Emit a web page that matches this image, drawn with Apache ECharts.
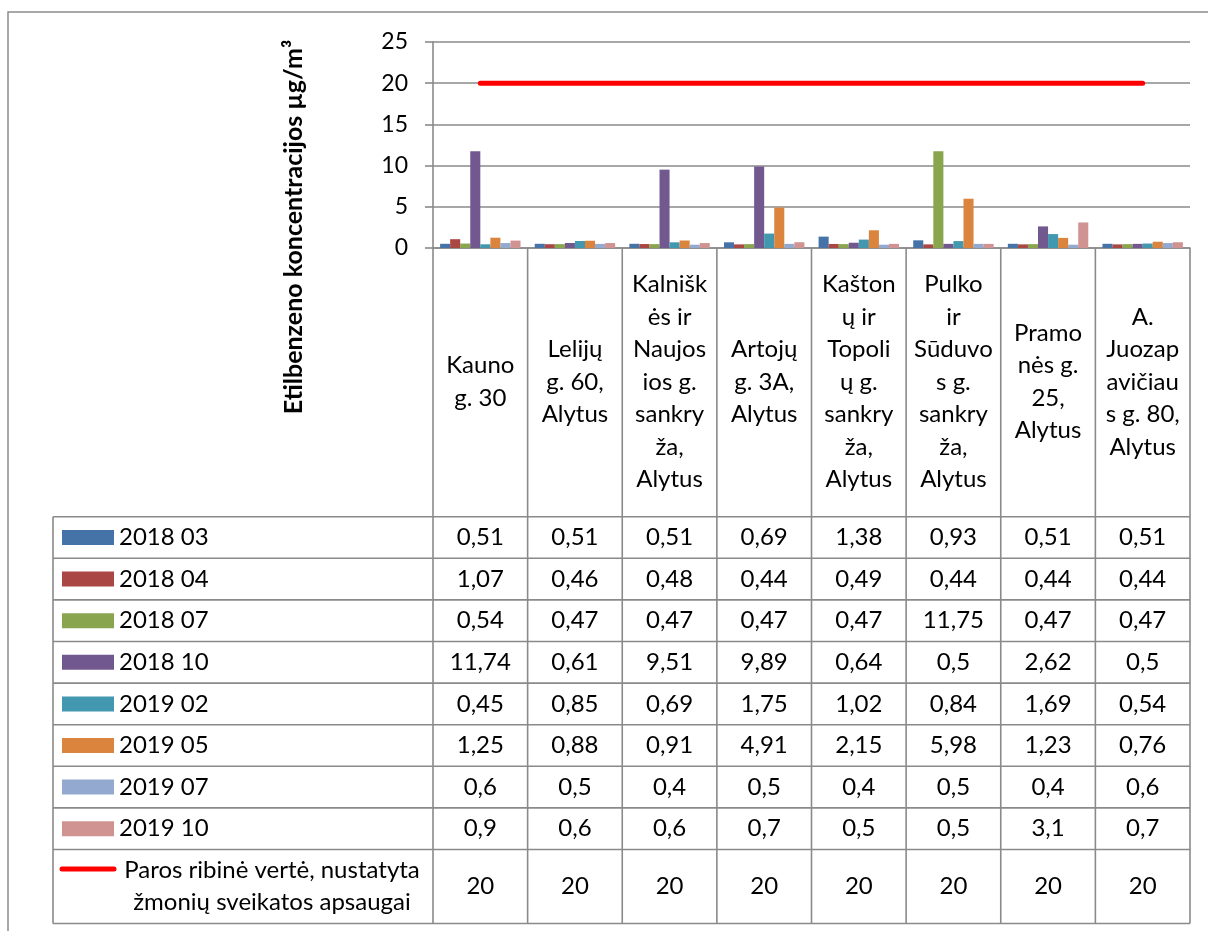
<!DOCTYPE html>
<html>
<head>
<meta charset="utf-8">
<script src="https://cdn.jsdelivr.net/npm/echarts@6/dist/echarts.min.js"></script>
<style>
  html, body { margin: 0; padding: 0; background: #fff; }
  #chart { width: 1208px; height: 931px; }
</style>
</head>
<body>
<div id="chart"></div>
<script>
// Monitoring points (wrapped as they appear under the axis)
const categories = [
  'Kauno\ng. 30',
  'Lelijų\ng. 60,\nAlytus',
  'Kalnišk\nės ir\nNaujos\nios g.\nsankry\nža,\nAlytus',
  'Artojų\ng. 3A,\nAlytus',
  'Kašton\nų ir\nTopoli\nų g.\nsankry\nža,\nAlytus',
  'Pulko\nir\nSūduvo\ns g.\nsankry\nža,\nAlytus',
  'Pramo\nnės g.\n25,\nAlytus',
  'A.\nJuozap\navičiau\ns g. 80,\nAlytus'
];

// Ethylbenzene concentrations, µg/m³, per sampling campaign
const s2018_03 = [0.51, 0.51, 0.51, 0.69, 1.38, 0.93, 0.51, 0.51];
const s2018_04 = [1.07, 0.46, 0.48, 0.44, 0.49, 0.44, 0.44, 0.44];
const s2018_07 = [0.54, 0.47, 0.47, 0.47, 0.47, 11.75, 0.47, 0.47];
const s2018_10 = [11.74, 0.61, 9.51, 9.89, 0.64, 0.5, 2.62, 0.5];
const s2019_02 = [0.45, 0.85, 0.69, 1.75, 1.02, 0.84, 1.69, 0.54];
const s2019_05 = [1.25, 0.88, 0.91, 4.91, 2.15, 5.98, 1.23, 0.76];
const s2019_07 = [0.6, 0.5, 0.4, 0.5, 0.4, 0.5, 0.4, 0.6];
const s2019_10 = [0.9, 0.6, 0.6, 0.7, 0.5, 0.5, 3.1, 0.7];

// Daily limit value for human health protection
const limitValues = [20, 20, 20, 20, 20, 20, 20, 20];

const seriesNames = ['2018 03', '2018 04', '2018 07', '2018 10', '2019 02', '2019 05', '2019 07', '2019 10'];
const limitName = 'Paros ribinė vertė, nustatyta\nžmonių sveikatos apsaugai';
const yTicks = { min: 0, max: 25, interval: 5 };
const axisTitle = 'Etilbenzeno koncentracijos µg/m³';

const barSeries = [s2018_03, s2018_04, s2018_07, s2018_10, s2019_02, s2019_05, s2019_07, s2019_10];
const colors = ['#4572A7', '#AA4643', '#89A54E', '#71588F', '#4198AF', '#DB843D', '#93A9CF', '#D19392'];

const FONT = 'Lato, "Open Sans", sans-serif';
const TXT = 24;
const LINE = '#8a8a8a';

// Layout of the plot area and the data table below it
const W = 1208, H = 931;
const plotLeft = 433, plotRight = 1190, plotTop = 42, plotBottom = 248;
const tableLeft = 53, tableTop = 516.7, rowH = 41.6, lastRowH = 74;
const catW = (plotRight - plotLeft) / categories.length;

const fmt = v => String(v).replace('.', ',');

const graphics = [];

// outer chart frame
graphics.push({
  type: 'rect', silent: true,
  shape: { x: 8, y: 12, width: W + 20, height: H + 20 },
  style: { fill: 'none', stroke: '#8c8c8c', lineWidth: 1.5 }
});

// y axis title
graphics.push({
  type: 'text', silent: true,
  x: 294, y: 227, rotation: Math.PI / 2,
  style: {
    text: axisTitle, font: 'bold 25px ' + FONT, fill: '#000',
    align: 'center', verticalAlign: 'middle'
  }
});

const rowCount = barSeries.length + 1;
const rowTops = [];
for (let r = 0; r < rowCount; r++) rowTops.push(tableTop + r * rowH);
const tableBottom = tableTop + barSeries.length * rowH + lastRowH;

function hLine(x1, x2, y) {
  graphics.push({ type: 'line', silent: true, shape: { x1, y1: y, x2, y2: y },
    style: { stroke: LINE, lineWidth: 1.6 } });
}
function vLine(x, y1, y2) {
  graphics.push({ type: 'line', silent: true, shape: { x1: x, y1, x2: x, y2 },
    style: { stroke: LINE, lineWidth: 1.6 } });
}

// horizontal table rules
rowTops.forEach(y => hLine(tableLeft, plotRight, y));
hLine(tableLeft, plotRight, tableBottom);
// vertical table rules
vLine(tableLeft, tableTop, tableBottom);
for (let c = 0; c <= categories.length; c++) {
  vLine(plotLeft + c * catW, plotBottom, tableBottom);
}

// legend keys and values for each bar series
barSeries.forEach((vals, r) => {
  const cy = rowTops[r] + rowH / 2;
  graphics.push({ type: 'rect', silent: true,
    shape: { x: 62, y: cy - 7.5, width: 52, height: 15 },
    style: { fill: colors[r] } });
  graphics.push({ type: 'text', silent: true, x: 119, y: cy,
    style: { text: seriesNames[r], font: TXT + 'px ' + FONT, fill: '#000',
      align: 'left', verticalAlign: 'middle' } });
  vals.forEach((v, c) => {
    graphics.push({ type: 'text', silent: true, x: plotLeft + (c + 0.5) * catW, y: cy,
      style: { text: fmt(v), font: TXT + 'px ' + FONT, fill: '#000',
        align: 'center', verticalAlign: 'middle' } });
  });
});

// limit row
{
  const r = barSeries.length;
  const cy = rowTops[r] + lastRowH / 2;
  graphics.push({ type: 'line', silent: true,
    shape: { x1: 62, y1: rowTops[r] + 19.5, x2: 114, y2: rowTops[r] + 19.5 },
    style: { stroke: '#FF0000', lineWidth: 5, lineCap: 'round' } });
  graphics.push({ type: 'text', silent: true, x: 272, y: cy,
    style: { text: limitName, font: TXT + 'px ' + FONT, fill: '#000', lineHeight: 32,
      align: 'center', verticalAlign: 'middle' } });
  limitValues.forEach((v, c) => {
    graphics.push({ type: 'text', silent: true, x: plotLeft + (c + 0.5) * catW, y: cy,
      style: { text: fmt(v), font: TXT + 'px ' + FONT, fill: '#000',
        align: 'center', verticalAlign: 'middle' } });
  });
}

const chart = echarts.init(document.getElementById('chart'), null, { renderer: 'canvas' });

const series = barSeries.map((vals, i) => ({
  name: seriesNames[i],
  type: 'bar',
  data: vals,
  barGap: '0%',
  barCategoryGap: '15%',
  itemStyle: { color: colors[i] },
  silent: true
}));
series.push({
  name: limitName,
  type: 'line',
  data: limitValues,
  symbol: 'none',
  silent: true,
  z: 5,
  lineStyle: { color: '#FF0000', width: 5, cap: 'round' }
});

chart.setOption({
  animation: false,
  backgroundColor: '#fff',
  textStyle: { fontFamily: FONT },
  grid: {
    left: plotLeft, right: W - plotRight, top: plotTop, bottom: H - plotBottom,
    containLabel: false
  },
  xAxis: {
    type: 'category',
    data: categories,
    boundaryGap: true,
    axisLine: { show: true, lineStyle: { color: LINE, width: 1.6 } },
    axisTick: { show: false },
    axisLabel: {
      interval: 0,
      margin: 134,
      verticalAlign: 'middle',
      align: 'center',
      lineHeight: 32.5,
      fontSize: TXT,
      fontFamily: FONT,
      color: '#000'
    },
    splitLine: { show: false }
  },
  yAxis: {
    type: 'value',
    min: yTicks.min, max: yTicks.max, interval: yTicks.interval,
    axisLine: { show: true, lineStyle: { color: LINE, width: 1.6 } },
    axisTick: { show: true, length: 8, lineStyle: { color: LINE, width: 1.6 } },
    axisLabel: { margin: 25, fontSize: 23, fontFamily: FONT, color: '#000' },
    splitLine: { show: true, lineStyle: { color: LINE, width: 1.6 } }
  },
  series: series,
  graphic: graphics
});
</script>
</body>
</html>
